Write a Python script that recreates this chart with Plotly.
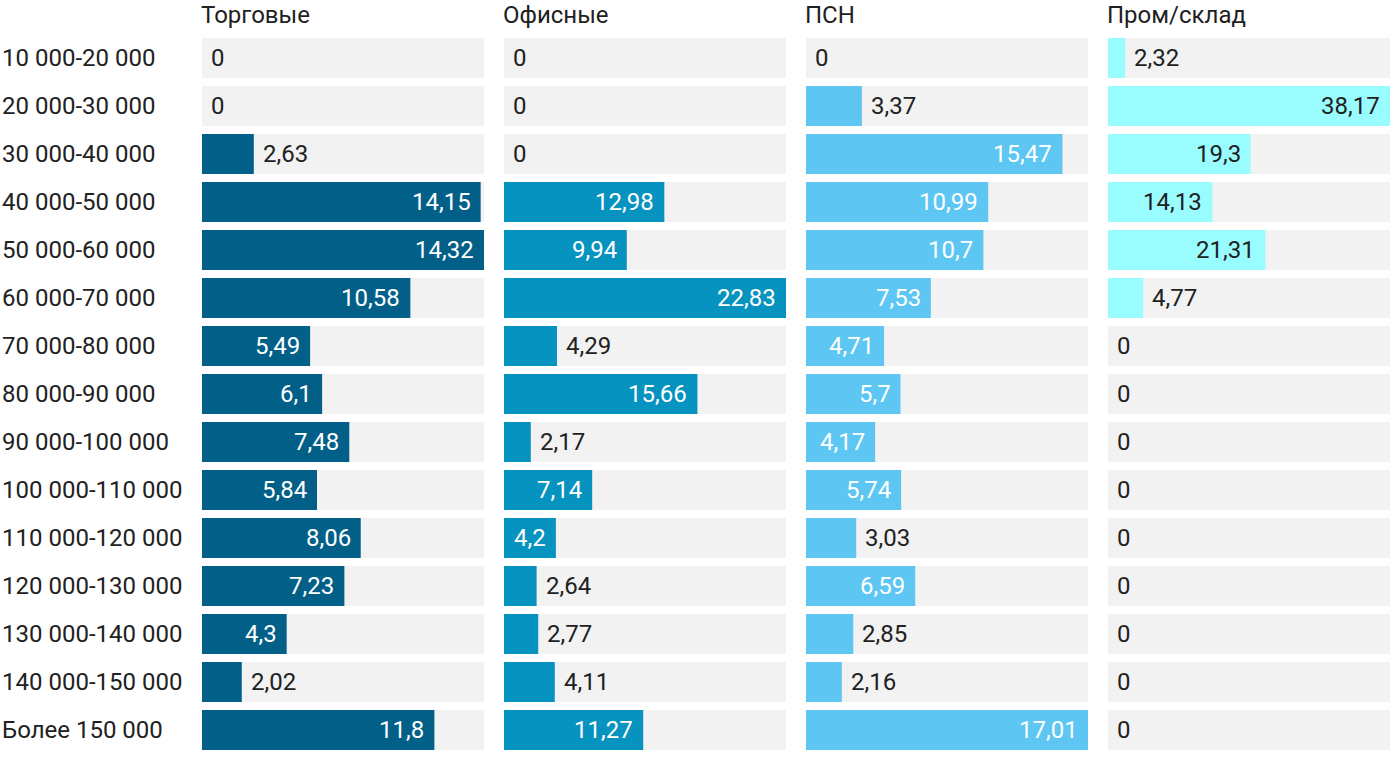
import plotly.graph_objects as go

categories = ["10 000-20 000", "20 000-30 000", "30 000-40 000", "40 000-50 000",
              "50 000-60 000", "60 000-70 000", "70 000-80 000", "80 000-90 000",
              "90 000-100 000", "100 000-110 000", "110 000-120 000", "120 000-130 000",
              "130 000-140 000", "140 000-150 000", "Более 150 000"]

panel_titles = ["Торговые", "Офисные", "ПСН", "Пром/склад"]

torgovye = [0, 0, 2.63, 14.15, 14.32, 10.58, 5.49, 6.1, 7.48, 5.84, 8.06, 7.23, 4.3, 2.02, 11.8]
ofisnye = [0, 0, 0, 12.98, 9.94, 22.83, 4.29, 15.66, 2.17, 7.14, 4.2, 2.64, 2.77, 4.11, 11.27]
psn = [0, 3.37, 15.47, 10.99, 10.7, 7.53, 4.71, 5.7, 4.17, 5.74, 3.03, 6.59, 2.85, 2.16, 17.01]
prom = [2.32, 38.17, 19.3, 14.13, 21.31, 4.77, 0, 0, 0, 0, 0, 0, 0, 0, 0]

series = [torgovye, ofisnye, psn, prom]
colors = ["#025f88", "#0793bf", "#5dc6f3", "#99fcfe"]
inside_text_colors = ["white", "white", "white", "#212121"]

W, H = 1400, 766
FONT = "Roboto"
FS = 24
TXT = "#212121"

# panel layout (pixels)
panel_left = [202, 504, 806, 1108]
panel_w = 282
top_px, bot_px = 34, 754

fig = go.Figure()
annotations = []

def fmt(v):
    return ("%g" % v).replace(".", ",")

def text_w(s):
    w = 0
    for ch in s:
        w += 0.19 * FS if ch == "," else 0.5615 * FS
    return w

for i, (title, vals, col) in enumerate(zip(panel_titles, series, colors)):
    xa = "x" if i == 0 else f"x{i+1}"
    ya = "y" if i == 0 else f"y{i+1}"
    vmax = max(vals)
    fig.add_trace(go.Bar(y=categories, x=[vmax] * len(categories), orientation="h",
                         marker=dict(color="#f2f2f2", line=dict(width=0)),
                         xaxis=xa, yaxis=ya, hoverinfo="skip", showlegend=False))
    fig.add_trace(go.Bar(y=categories, x=vals, orientation="h",
                         marker=dict(color=col, line=dict(width=0)),
                         xaxis=xa, yaxis=ya, showlegend=False))
    d0 = panel_left[i] / W
    d1 = (panel_left[i] + panel_w) / W
    axkey = "xaxis" if i == 0 else f"xaxis{i+1}"
    aykey = "yaxis" if i == 0 else f"yaxis{i+1}"
    fig.update_layout({
        axkey: dict(domain=[d0, d1], range=[0, vmax], visible=False, fixedrange=True),
        aykey: dict(domain=[1 - bot_px / H, 1 - top_px / H], anchor=xa,
                    categoryorder="array", categoryarray=categories,
                    range=[len(categories) - 0.5, -0.5], visible=False),
    })
    for c, v in zip(categories, vals):
        s = fmt(v)
        bar_px = v / vmax * panel_w
        inside = text_w(s) + 16 <= bar_px
        annotations.append(dict(
            x=v, y=c, xref=xa, yref=ya, text=s, showarrow=False,
            xanchor="right" if inside else "left",
            xshift=-8 if inside else 7,
            font=dict(family=FONT, size=FS,
                      color=inside_text_colors[i] if inside else TXT),
        ))
    annotations.append(dict(
        x=d0, y=1 - 15 / H, xref="paper", yref="paper", text=title, showarrow=False,
        xanchor="left", yanchor="middle", xshift=-3,
        font=dict(family=FONT, size=FS, color=TXT),
    ))

for c in categories:
    annotations.append(dict(
        x=0, y=c, xref="paper", yref="y", text=c, showarrow=False,
        xanchor="left", xshift=0,
        font=dict(family=FONT, size=FS, color=TXT),
    ))

fig.update_layout(
    width=W, height=H,
    margin=dict(l=0, r=0, t=0, b=0),
    barmode="overlay", bargap=8 / 48,
    plot_bgcolor="white", paper_bgcolor="white",
    annotations=annotations,
    font=dict(family=FONT, size=FS, color=TXT),
)

fig.write_html("out.html",
               config={"displayModeBar": False},
               post_script="document.body.style.margin='0';document.body.style.overflow='hidden';")
